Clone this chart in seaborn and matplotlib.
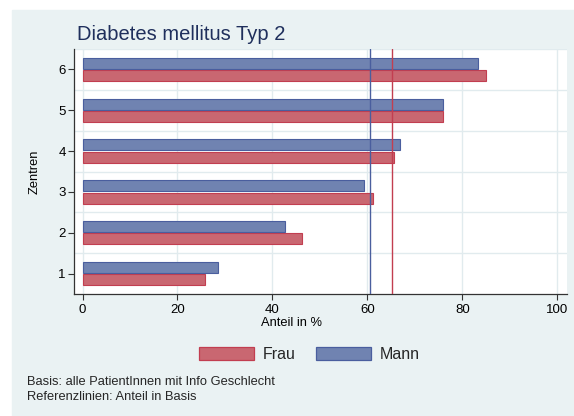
import pandas as pd
import matplotlib.pyplot as plt
import matplotlib.patches as mpatches
import seaborn as sns

zentren = [1, 2, 3, 4, 5, 6]
frau = [25.9, 46.2, 61.1, 65.7, 75.9, 85.1]
mann = [28.5, 42.7, 59.2, 66.8, 76.0, 83.3]
ref_frau = 65.1
ref_mann = 60.6

fill = {'Frau': '#C96771', 'Mann': '#7083B1'}
edge = {'Frau': '#C23E50', 'Mann': '#4A5E9E'}
bg = '#EAF2F3'

df = pd.DataFrame({
    'Zentrum': zentren * 2,
    'Anteil': frau + mann,
    'Geschlecht': ['Frau'] * 6 + ['Mann'] * 6,
})

sns.set_theme(style='white')
plt.rcParams['font.family'] = ['Liberation Sans', 'DejaVu Sans']

fig = plt.figure(figsize=(5.74, 4.16), dpi=100)
fig.patches.append(mpatches.Rectangle((12 / 574, 0), 1, 1 - 10 / 416,
                                      transform=fig.transFigure, color=bg, zorder=-5))
ax = fig.add_axes([74 / 574, 1 - 294 / 416, 492.7 / 574, 245 / 416])
ax.set_facecolor('white')

sns.barplot(data=df, x='Anteil', y='Zentrum', hue='Geschlecht', hue_order=['Frau', 'Mann'],
            orient='h', native_scale=True, width=0.6, gap=0.1, palette=fill,
            saturation=1, legend=False, ax=ax, zorder=3)
for cont, g in zip(ax.containers, ['Frau', 'Mann']):
    for p in cont:
        p.set_edgecolor(edge[g])
        p.set_linewidth(0.8)

ax.axvline(ref_mann, color='#4A5E9E', lw=1, zorder=4)
ax.axvline(ref_frau, color='#C23E50', lw=1, zorder=4)

ax.set_xlim(-1.8, 102)
ax.set_ylim(0.5, 6.5)
ax.set_xticks([0, 20, 40, 60, 80, 100])
ax.set_yticks(zentren)
ax.set_yticks([1.5, 2.5, 3.5, 4.5, 5.5, 6.5], minor=True)
ax.grid(axis='x', which='major', color='#E1EBEE', lw=1, zorder=0)
ax.grid(axis='y', which='minor', color='#E1EBEE', lw=1, zorder=0)
ax.tick_params(axis='both', which='major', direction='out', length=4, width=0.8,
               color='#333333', labelsize=9.5, labelcolor='black', pad=2,
               bottom=True, left=True)
ax.tick_params(axis='x', which='major', pad=3)
ax.tick_params(axis='y', which='minor', length=0, left=False)
for s in ['top', 'right']:
    ax.spines[s].set_visible(False)
for s in ['left', 'bottom']:
    ax.spines[s].set_color('#333333')
    ax.spines[s].set_linewidth(0.9)

ax.set_xlabel('Anteil in %', fontsize=9.3, color='black')
ax.xaxis.set_label_coords(0.441, -0.095)
ax.set_ylabel('Zentren', fontsize=9.3, color='black')
ax.yaxis.set_label_coords(-0.067, 0.5)

fig.text(77 / 574, 1 - 34 / 416, 'Diabetes mellitus Typ 2', fontsize=14.5,
         color='#1F2F5C', va='center', ha='left')

handles = [mpatches.Patch(facecolor=fill[g], edgecolor=edge[g], lw=0.9, label=g)
           for g in ['Frau', 'Mann']]
fig.legend(handles=handles, loc='center', bbox_to_anchor=(0.539, 1 - 354.7 / 416),
           ncol=2, frameon=False, fontsize=11.5, handlelength=3.4, handleheight=0.875,
           handletextpad=0.56, columnspacing=1.3)

fig.text(27 / 574, 1 - 381.7 / 416, 'Basis: alle PatientInnen mit Info Geschlecht',
         fontsize=9.3, va='center', ha='left')
fig.text(27 / 574, 1 - 396.7 / 416, 'Referenzlinien: Anteil in Basis',
         fontsize=9.3, va='center', ha='left')

fig.savefig('out.png', dpi=100, facecolor='white')
